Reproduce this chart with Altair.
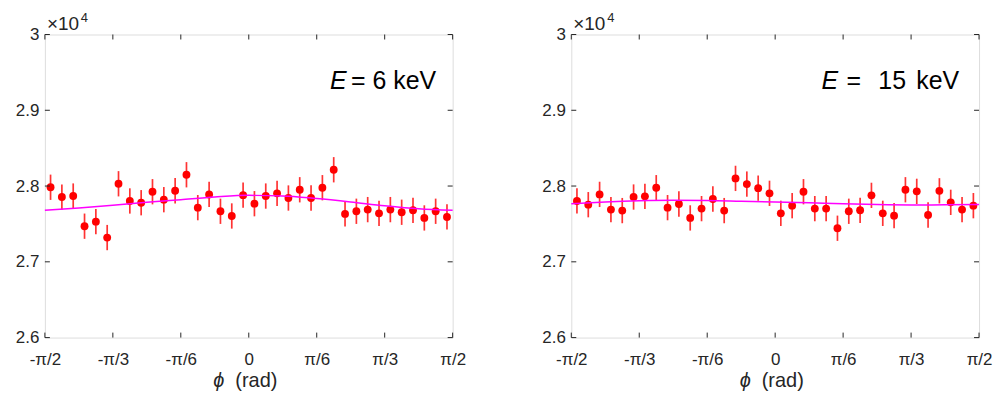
import altair as alt
import pandas as pd

# bin centres (degrees), 5-degree bins from -90 to 90
PHI = [-87.5, -82.5, -77.5, -72.5, -67.5, -62.5, -57.5, -52.5, -47.5, -42.5, -37.5, -32.5,
       -27.5, -22.5, -17.5, -12.5, -7.5, -2.5, 2.5, 7.5, 12.5, 17.5, 22.5, 27.5,
       32.5, 37.5, 42.5, 47.5, 52.5, 57.5, 62.5, 67.5, 72.5, 77.5, 82.5, 87.5]

COUNTS_6 = [27984, 27855, 27868, 27470, 27530, 27320, 28030, 27803, 27780, 27925, 27820, 27938,
            28149, 27715, 27890, 27667, 27605, 27880, 27767, 27868, 27904, 27842, 27951, 27842,
            27978, 28215, 27632, 27667, 27689, 27640, 27689, 27654, 27680, 27579, 27667, 27592]

COUNTS_15 = [27803, 27754, 27890, 27689, 27676, 27855, 27864, 27978, 27715, 27763, 27579, 27702,
             27829, 27676, 28101, 28026, 27972, 27904, 27640, 27741, 27925, 27702, 27702, 27443,
             27667, 27680, 27877, 27640, 27609, 27951, 27930, 27618, 27937, 27785, 27689, 27741]

ERR = 167

FIT_PHI = [-90, -75, -60, -45, -30, -15, 0, 15, 30, 45, 60, 75, 90]
FIT_6 = [27680, 27710, 27745, 27785, 27820, 27855, 27877, 27870, 27835, 27790, 27740, 27700, 27680]
FIT_15 = [27767, 27790, 27805, 27811, 27810, 27800, 27790, 27778, 27765, 27755, 27750, 27752, 27757]

X_TICKS = [-90, -60, -30, 0, 30, 60, 90]
X_LABELS = ["-π/2", "-π/3", "-π/6", "0", "π/6", "π/3", "π/2"]
Y_TICKS = [26000, 27000, 28000, 29000, 30000]

W, H = 409, 304
FONT = "Liberation Sans"
INK = "#262626"

label_expr = " : ".join(
    f"datum.value == {v} ? '{l}'" for v, l in zip(X_TICKS, X_LABELS)
) + " : ''"

XSCALE = alt.Scale(domain=[-90, 90], nice=False, zero=False)
YSCALE = alt.Scale(domain=[26000, 30000], nice=False, zero=False)
XAXIS = alt.Axis(values=X_TICKS, labelExpr=label_expr, title=None, grid=False,
                 ticks=False, domain=False, labelPadding=14, labelFontSize=17,
                 labelFont=FONT, labelColor=INK, labelFlush=False)
YAXIS = alt.Axis(values=Y_TICKS,
                 labelExpr="datum.value == 30000 ? '3' : format(datum.value/10000, '.1f')",
                 title=None, grid=False, ticks=False, domain=False, labelPadding=6,
                 labelFontSize=17, labelFont=FONT, labelColor=INK)


def text_layer(txt, x, y, size, align="left", style="normal", baseline="alphabetic"):
    return alt.Chart(alt.Data(values=[{"t": txt}])).mark_text(
        font=FONT, fontSize=size, fontStyle=style, align=align, baseline=baseline,
        color="black" if size > 20 else INK,
    ).encode(text="t:N", x=alt.value(x), y=alt.value(y))


def panel(counts, fit, e_pieces):
    df = pd.DataFrame({"phi": PHI, "cnt": counts})
    df["lo"] = df["cnt"] - ERR
    df["hi"] = df["cnt"] + ERR
    fdf = pd.DataFrame({"phi": FIT_PHI, "cnt": fit})
    xt = pd.DataFrame({"phi": X_TICKS})
    yt = pd.DataFrame({"cnt": Y_TICKS})

    X = alt.X("phi:Q", scale=XSCALE, axis=XAXIS)
    Y = alt.Y("cnt:Q", scale=YSCALE, axis=YAXIS)

    bars = alt.Chart(df).mark_rule(color="#ff0000", strokeWidth=1.7, opacity=0.8).encode(
        x=X, y=alt.Y("lo:Q", scale=YSCALE, axis=YAXIS), y2="hi:Q")
    pts = alt.Chart(df).mark_point(filled=True, shape="circle", size=62, color="#ff0000",
                                   opacity=1).encode(x=X, y=Y)
    line = alt.Chart(fdf).mark_line(color="#ff00ff", strokeWidth=1.5,
                                    interpolate="monotone").encode(x=X, y=Y)

    tick_style = dict(color=INK, strokeWidth=1)
    xt_bot = alt.Chart(xt).mark_rule(**tick_style).encode(x=X, y=alt.value(H - 5), y2=alt.value(H))
    xt_top = alt.Chart(xt).mark_rule(**tick_style).encode(x=X, y=alt.value(0), y2=alt.value(5))
    yt_l = alt.Chart(yt).mark_rule(**tick_style).encode(y=Y, x=alt.value(0), x2=alt.value(5))
    yt_r = alt.Chart(yt).mark_rule(**tick_style).encode(y=Y, x=alt.value(W - 5), x2=alt.value(W))

    texts = [
        text_layer("×10", 2, -5, 19),
        text_layer("4", 36, -13, 13),
        text_layer("ϕ", 180, 354, 20, align="right", style="italic"),
        text_layer("(rad)", 191, 354, 20),
    ]
    for txt, x, style in e_pieces:
        texts.append(text_layer(txt, x, 55, 25, style=style))
    return alt.layer(bars, pts, line, xt_bot, xt_top, yt_l, yt_r, *texts).properties(
        width=W, height=H)


left = panel(COUNTS_6, FIT_6, [("E", 286, "italic"), ("= 6 keV", 307, "normal")])
right = panel(COUNTS_15, FIT_15, [("E", 251, "italic"), ("=", 276, "normal"),
                                  ("15", 308, "normal"), ("keV", 346, "normal")])

chart = alt.hconcat(left, right, spacing=119, bounds="flush").properties(
    padding={"left": 6, "top": 2, "right": 0, "bottom": 0}
).configure_view(stroke=INK, strokeWidth=1).configure(background="white")

chart.save("out.html", embed_options={"renderer": "svg", "actions": False})
